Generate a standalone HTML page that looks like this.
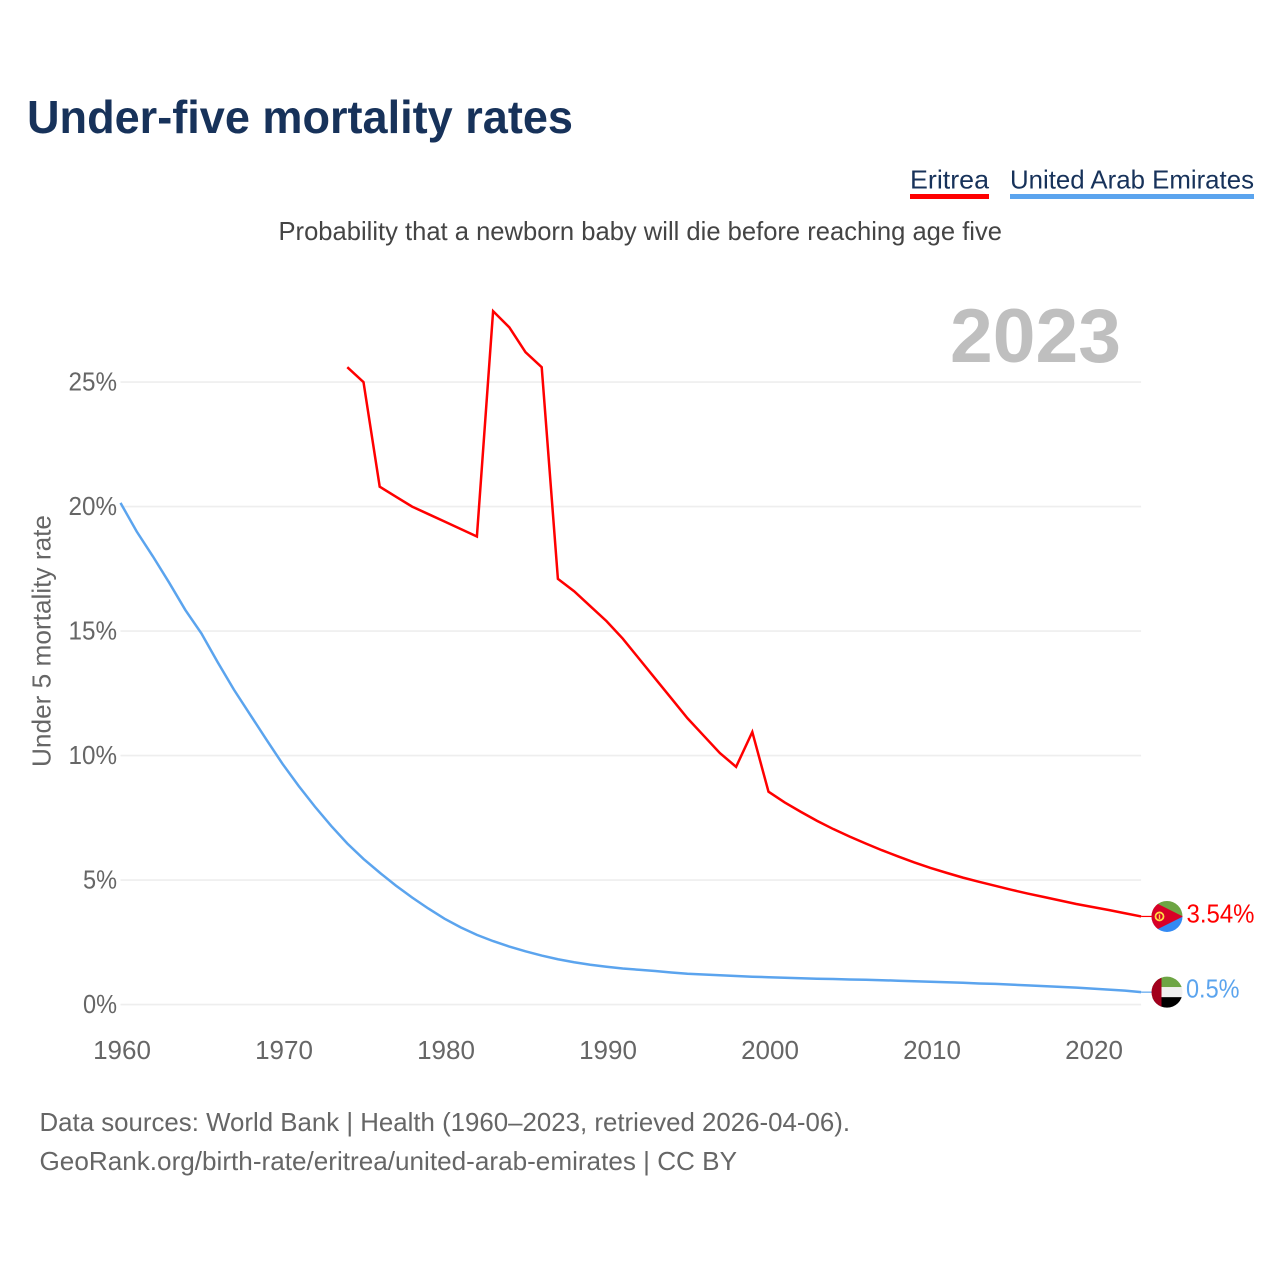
<!DOCTYPE html>
<html lang="en">
<head>
<meta charset="utf-8">
<title>Under-five mortality rates</title>
<style>
html,body{margin:0;padding:0;background:#fff;width:1280px;height:1280px;overflow:hidden}
svg{display:block}
text{font-family:"Liberation Sans",sans-serif}
</style>
</head>
<body>
<svg id="chart" xmlns="http://www.w3.org/2000/svg" width="1280" height="1280" viewBox="0 0 1280 1280">
  <rect x="0" y="0" width="1280" height="1280" fill="#fff"/>
  <text x="27" y="133" font-size="46" font-weight="700" fill="#17325a" textLength="546" lengthAdjust="spacingAndGlyphs">Under-five mortality rates</text>

  <g>
    <text x="910" y="188.5" font-size="26" fill="#17325a" textLength="79" lengthAdjust="spacingAndGlyphs">Eritrea</text>
    <rect x="910" y="194" width="79" height="5" fill="#ff0000"/>
  </g>
  <g>
    <text x="1010" y="188.5" font-size="26" fill="#17325a" textLength="244" lengthAdjust="spacingAndGlyphs">United Arab Emirates</text>
    <rect x="1010" y="194" width="244" height="5" fill="#5ba4ee"/>
  </g>

  <text x="278.5" y="240" font-size="26" fill="#444" textLength="723.5" lengthAdjust="spacingAndGlyphs">Probability that a newborn baby will die before reaching age five</text>

  <g id="grid"></g>
  <g id="yTicks"></g>
  <g id="xTicks"></g>

  <text x="950" y="362" font-size="76" font-weight="700" fill="#bfbfbf" textLength="171" lengthAdjust="spacingAndGlyphs">2023</text>

  <text transform="translate(50.5,767) rotate(-90)" font-size="26" fill="#666" textLength="252" lengthAdjust="spacingAndGlyphs">Under 5 mortality rate</text>

  <g id="series"></g>

  <defs>
    <clipPath id="flagClip"><circle cx="0" cy="0" r="15.5"/></clipPath>
  </defs>
  <g id="flagEritrea">
    <g clip-path="url(#flagClip)">
      <rect x="-16" y="-16" width="32" height="16" fill="#6da544"/>
      <rect x="-16" y="0" width="32" height="16" fill="#338af3"/>
      <polygon points="-16,-16 16,0 -16,16" fill="#d80027"/>
      <circle cx="-7.5" cy="0" r="4" fill="none" stroke="#ffda44" stroke-width="1.8"/>
      <rect x="-8.2" y="-2" width="1.4" height="4.5" fill="#ffda44"/>
    </g>
  </g>
  <g id="flagUae">
    <g clip-path="url(#flagClip)">
      <rect x="-16" y="-16" width="32" height="11" fill="#6da544"/>
      <rect x="-16" y="-5" width="32" height="10" fill="#f0f0f0"/>
      <rect x="-16" y="5" width="32" height="11" fill="#000"/>
      <rect x="-16" y="-16" width="10.5" height="32" fill="#a2001d"/>
    </g>
  </g>

  <text id="valueEritrea" font-size="26" fill="#ff0000"></text>
  <text id="valueUae" font-size="26" fill="#5ba4ee"></text>

  <text x="39.5" y="1131" font-size="26" fill="#666" textLength="810.5" lengthAdjust="spacingAndGlyphs">Data sources: World Bank | Health (1960–2023, retrieved 2026-04-06).</text>
  <text x="39.5" y="1170" font-size="26" fill="#666" textLength="697.5" lengthAdjust="spacingAndGlyphs">GeoRank.org/birth-rate/eritrea/united-arab-emirates | CC BY</text>
</svg>

<script>
const yTickValues = [0, 5, 10, 15, 20, 25];
const yTickLabels = ['0%', '5%', '10%', '15%', '20%', '25%'];
const xTickValues = [1960, 1970, 1980, 1990, 2000, 2010, 2020];
const xTickLabels = ['1960', '1970', '1980', '1990', '2000', '2010', '2020'];

const uaeStartYear = 1960;
const uaeValues = [20.15, 19.0, 18.0, 16.95, 15.85, 14.9, 13.75, 12.65, 11.65, 10.65,
  9.67, 8.78, 7.95, 7.18, 6.47, 5.85, 5.3, 4.78, 4.3, 3.86,
  3.45, 3.1, 2.8, 2.55, 2.33, 2.14, 1.97, 1.82, 1.7, 1.6,
  1.52, 1.45, 1.4, 1.35, 1.29, 1.24, 1.21, 1.18, 1.15, 1.12,
  1.1, 1.08, 1.06, 1.04, 1.03, 1.01, 1.0, 0.98, 0.96, 0.94,
  0.92, 0.9, 0.88, 0.85, 0.83, 0.8, 0.77, 0.74, 0.71, 0.68,
  0.64, 0.6, 0.56, 0.5];

const eritreaStartYear = 1974;
const eritreaValues = [25.6, 25.0, 20.8, 20.4, 20.0, 19.7, 19.4, 19.1, 18.8, 27.85,
  27.2, 26.2, 25.6, 17.1, 16.6, 16.0, 15.4, 14.7, 13.9, 13.1,
  12.3, 11.5, 10.8, 10.1, 9.55, 10.95, 8.55, 8.12, 7.74, 7.38,
  7.05, 6.75, 6.47, 6.2, 5.95, 5.71, 5.49, 5.29, 5.1, 4.93,
  4.77, 4.61, 4.46, 4.32, 4.18, 4.04, 3.92, 3.8, 3.67, 3.54];

const eritreaValueLabel = '3.54%';
const uaeValueLabel = '0.5%';

const NS = 'http://www.w3.org/2000/svg';
const xScale = function (year) { return 120.5 + (year - 1960) * 16.2; };
const yScale = function (v) { return 1004.6 - v * 24.9; };
const flagX = 1167;

function labelWidth(s) {
  let w = 0;
  for (const c of s) {
    if (c === '%') w += 19.5;
    else if (c === '.') w += 5;
    else w += 14.5;
  }
  return w;
}

const grid = document.getElementById('grid');
const yTicks = document.getElementById('yTicks');
yTickValues.forEach(function (v, i) {
  const line = document.createElementNS(NS, 'line');
  
  
  line.setAttribute('x1', xScale(1960));
  line.setAttribute('x2', xScale(2023));
  line.setAttribute('y1', yScale(v));
  line.setAttribute('y2', yScale(v));
  line.setAttribute('stroke', '#eeeeee');
  line.setAttribute('stroke-width', '1.6');
  grid.appendChild(line);

  const t = document.createElementNS(NS, 'text');
  
  
  const w = labelWidth(yTickLabels[i]);
  t.setAttribute('x', 117 - w);
  t.setAttribute('y', yScale(v) + 8.2);
  t.setAttribute('font-size', '26');
  t.setAttribute('fill', '#666');
  t.setAttribute('textLength', w);
  t.setAttribute('lengthAdjust', 'spacingAndGlyphs');
  t.textContent = yTickLabels[i];
  yTicks.appendChild(t);
});

const xTicks = document.getElementById('xTicks');
xTickValues.forEach(function (year, i) {
  const t = document.createElementNS(NS, 'text');
  
  
  t.setAttribute('x', xScale(year) + 1.5);
  t.setAttribute('y', 1059);
  t.setAttribute('font-size', '26');
  t.setAttribute('fill', '#666');
  t.setAttribute('text-anchor', 'middle');
  t.textContent = xTickLabels[i];
  xTicks.appendChild(t);
});

const series = document.getElementById('series');
function drawSeries(values, startYear, color) {
  const pts = values.map(function (v, i) {
    return xScale(startYear + i).toFixed(2) + ',' + yScale(v).toFixed(2);
  }).join(' ');
  const line = document.createElementNS(NS, 'polyline');
  
  
  line.setAttribute('points', pts);
  line.setAttribute('fill', 'none');
  line.setAttribute('stroke', color);
  line.setAttribute('stroke-width', '2.5');
  line.setAttribute('stroke-linejoin', 'miter');
  series.appendChild(line);

  const last = values[values.length - 1];
  const stub = document.createElementNS(NS, 'line');
  
  
  stub.setAttribute('x1', xScale(startYear + values.length - 1));
  stub.setAttribute('x2', flagX - 15);
  stub.setAttribute('y1', yScale(last));
  stub.setAttribute('y2', yScale(last));
  stub.setAttribute('stroke', color);
  stub.setAttribute('stroke-width', '1.2');
  series.appendChild(stub);
}
drawSeries(uaeValues, uaeStartYear, '#5ba4ee');
drawSeries(eritreaValues, eritreaStartYear, '#ff0000');

const eritreaLast = eritreaValues[eritreaValues.length - 1];
const uaeLast = uaeValues[uaeValues.length - 1];
document.getElementById('flagEritrea').setAttribute('transform', 'translate(' + flagX + ',' + yScale(eritreaLast) + ')');
document.getElementById('flagUae').setAttribute('transform', 'translate(' + flagX + ',' + yScale(uaeLast) + ')');

const ve = document.getElementById('valueEritrea');
ve.setAttribute('x', 1186.5);
ve.setAttribute('y', yScale(eritreaLast) + 5.8);
ve.setAttribute('textLength', labelWidth(eritreaValueLabel));
ve.setAttribute('lengthAdjust', 'spacingAndGlyphs');
ve.textContent = eritreaValueLabel;

const vu = document.getElementById('valueUae');
vu.setAttribute('x', 1186);
vu.setAttribute('y', yScale(uaeLast) + 5.5);
vu.setAttribute('textLength', labelWidth(uaeValueLabel));
vu.setAttribute('lengthAdjust', 'spacingAndGlyphs');
vu.textContent = uaeValueLabel;
</script>
</body>
</html>
